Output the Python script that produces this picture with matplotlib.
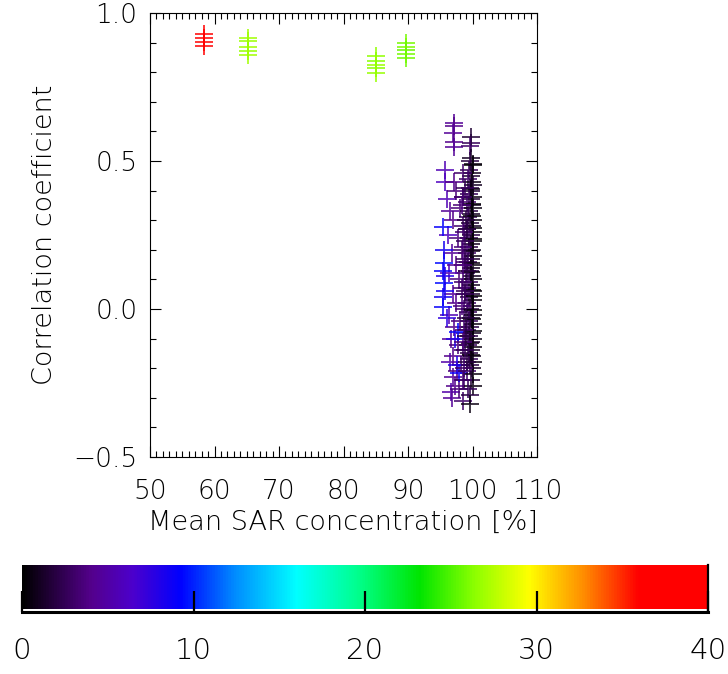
import matplotlib
matplotlib.use("Agg")
import matplotlib.pyplot as plt
import numpy as np
from matplotlib.colors import LinearSegmentedColormap
from matplotlib.ticker import MultipleLocator

# ---------------- data ----------------
# outlying clusters (x = mean SAR concentration, y = correlation, c = colour value)
out_x = [58.4, 58.4, 58.4, 58.4,
         65.2, 65.2, 65.2, 65.2, 65.2,
         85.0, 85.0, 85.0, 85.0, 85.0,
         89.7, 89.7, 89.7, 89.7, 89.7]
out_y = [0.928, 0.914, 0.901, 0.889,
         0.917, 0.905, 0.886, 0.872, 0.858,
         0.856, 0.838, 0.824, 0.813, 0.796,
         0.898, 0.886, 0.875, 0.860, 0.849]
out_c = [37.5, 37.0, 37.5, 37.0,
         27.0, 26.8, 27.0, 26.6, 26.9,
         26.5, 26.3, 26.8, 26.4, 26.6,
         25.8, 26.0, 25.6, 25.9, 25.7]

# dense near-black core
core_x = [99.8, 99.8, 99.6,
          99.8, 99.6, 100.0, 99.5, 99.9, 99.7,
          99.3, 99.9, 100.1, 99.6, 99.8, 99.4, 100.0,
          99.7, 99.2, 99.9, 100.1, 99.5, 99.8, 99.3, 100.0,
          99.6, 99.9, 99.1, 100.1, 99.7, 99.4, 100.0, 99.8,
          99.5, 99.9, 99.2, 100.0, 99.7, 99.3, 100.1, 99.8,
          99.6, 99.0, 99.9, 100.0, 99.4, 99.8, 99.2, 100.1,
          99.7, 99.5, 100.0, 99.1, 99.9, 99.6, 99.3, 100.1,
          99.8, 99.4, 100.0, 99.6, 99.2, 99.9, 99.5, 100.1,
          99.7, 99.3, 100.0, 99.8, 99.5, 99.9, 99.4, 100.1,
          99.6, 99.9, 99.2, 100.0, 99.7, 100.1,
          99.6, 99.6, 99.3,
          99.9, 100.0, 99.7, 99.8, 100.1, 99.9, 99.6, 100.0,
          99.8, 100.1, 99.7, 99.9, 100.0, 99.8, 100.1, 99.9,
          98.6, 98.9, 98.4, 99.0, 98.7, 98.5, 98.8, 99.1,
          98.6, 98.9, 98.4, 99.0, 98.7, 98.5, 98.8, 99.1,
          98.6, 98.9, 98.5, 99.0, 98.7, 98.8, 99.1, 98.6]
core_y = [0.56, 0.58, 0.55,
          0.51, 0.50, 0.49, 0.47, 0.46, 0.45,
          0.44, 0.43, 0.42, 0.41, 0.40, 0.39, 0.38,
          0.37, 0.36, 0.35, 0.34, 0.33, 0.32, 0.31, 0.30,
          0.29, 0.28, 0.27, 0.26, 0.25, 0.24, 0.23, 0.22,
          0.21, 0.20, 0.19, 0.18, 0.17, 0.16, 0.15, 0.14,
          0.13, 0.12, 0.11, 0.10, 0.09, 0.08, 0.07, 0.06,
          0.05, 0.04, 0.03, 0.02, 0.01, 0.00, -0.01, -0.02,
          -0.03, -0.04, -0.05, -0.06, -0.07, -0.08, -0.09, -0.10,
          -0.11, -0.12, -0.13, -0.14, -0.15, -0.16, -0.17, -0.18,
          -0.19, -0.20, -0.21, -0.22, -0.24, -0.26,
          -0.29, -0.32, -0.27,
          0.355, 0.275, 0.195, 0.125, 0.045, -0.035, -0.115, 0.485,
          0.405, 0.235, 0.155, 0.065, -0.075, -0.155, -0.005, 0.315,
          0.46, 0.41, 0.35, 0.30, 0.26, 0.21, 0.17, 0.13,
          0.09, 0.05, 0.01, -0.03, -0.07, -0.11, -0.14, -0.18,
          0.38, 0.23, 0.15, -0.09, -0.20, 0.06, 0.27, -0.24]
core_c = [2.5, 1.5, 3.0,
          1.0, 2.0, 0.5, 2.5, 1.0, 1.5,
          3.0, 0.5, 1.0, 2.0, 1.5, 2.5, 0.5,
          1.5, 3.0, 1.0, 0.5, 2.0, 1.0, 2.5, 0.5,
          1.5, 1.0, 3.0, 0.5, 2.0, 2.5, 0.5, 1.0,
          2.0, 1.0, 3.0, 0.5, 1.5, 2.5, 0.5, 1.0,
          2.0, 3.5, 1.0, 0.5, 2.5, 1.0, 3.0, 0.5,
          1.5, 2.0, 0.5, 3.0, 1.0, 2.0, 2.5, 0.5,
          1.0, 2.5, 0.5, 2.0, 3.0, 1.0, 2.0, 0.5,
          1.5, 2.5, 0.5, 1.0, 2.0, 1.0, 2.5, 0.5,
          2.0, 1.0, 3.0, 0.5, 1.5, 0.5,
          2.0, 0.5, 2.5,
          0.3, 0.2, 0.8, 0.4, 0.2, 0.3, 0.9, 0.2,
          0.5, 0.2, 0.6, 0.3, 0.2, 0.4, 0.2, 0.3,
          3.0, 2.5, 3.5, 2.0, 3.0, 3.5, 2.5, 2.0,
          3.0, 2.5, 3.5, 2.0, 3.0, 3.5, 2.5, 2.0,
          3.0, 2.5, 3.5, 2.0, 3.0, 2.5, 2.0, 3.0]

# purple points
purp_x = [97.1, 97.1, 97.0, 97.1, 97.1,
          95.7, 95.8, 97.2, 96.0, 97.5, 98.5, 96.5, 98.0, 97.0, 98.6,
          96.2, 97.8, 98.3, 96.8, 97.4, 98.8, 96.3, 97.9, 98.4, 96.9,
          97.5, 98.7, 96.4, 98.1, 97.2, 98.9, 96.7, 97.8, 98.5, 97.0,
          96.5, 98.2, 97.6, 96.9, 98.7, 97.3, 96.6, 96.8, 97.9, 98.6]
purp_y = [0.630, 0.618, 0.594, 0.565, 0.547,
          0.47, 0.43, 0.43, 0.37, 0.40, 0.38, 0.33, 0.34, 0.30, 0.28,
          0.25, 0.24, 0.20, 0.19, 0.15, 0.16, 0.12, 0.10, 0.07, 0.05,
          0.02, 0.00, -0.02, -0.04, -0.06, -0.08, -0.10, -0.12, -0.14, -0.16,
          -0.18, -0.19, -0.21, -0.23, -0.24, -0.26, -0.28, -0.30, -0.27, -0.31]
purp_c = [4.5, 4.0, 4.5, 4.0, 4.5,
          5.5, 6.0, 4.0, 5.5, 3.5, 3.0, 4.5, 3.5, 4.0, 3.0,
          6.0, 3.5, 3.0, 4.5, 4.0, 3.0, 5.5, 3.5, 3.0, 4.5,
          4.0, 3.0, 5.5, 3.5, 4.0, 3.0, 4.5, 3.5, 3.0, 4.0,
          5.0, 3.0, 3.5, 4.5, 3.0, 4.0, 5.0, 4.5, 3.5, 3.0]

# blue points
blue_x = [95.5, 95.6, 95.4, 95.6, 95.4, 95.5, 95.7, 95.8,
          97.7, 97.9, 97.3, 96.0, 95.6, 97.6]
blue_y = [0.278, 0.155, 0.13, 0.088, 0.04, 0.007, 0.11, 0.06,
          -0.078, -0.216, -0.10, -0.03, 0.20, -0.19]
blue_c = [9.0, 9.5, 9.0, 9.5, 8.5, 9.0, 8.0, 8.5,
          9.5, 9.0, 8.0, 7.5, 8.5, 8.0]

cbar_ticks = [0, 10, 20, 30, 40]

# ---------------- colormap (IDL-like rainbow) ----------------
cmap = LinearSegmentedColormap.from_list("idlrainbow", [
    (0.00, (0.0, 0.0, 0.0)),
    (0.10, (0.33, 0.0, 0.55)),
    (0.16, (0.30, 0.0, 0.80)),
    (0.23, (0.0, 0.0, 1.0)),
    (0.31, (0.0, 0.55, 1.0)),
    (0.40, (0.0, 1.0, 1.0)),
    (0.49, (0.0, 1.0, 0.55)),
    (0.58, (0.0, 0.9, 0.0)),
    (0.66, (0.55, 1.0, 0.0)),
    (0.74, (1.0, 1.0, 0.0)),
    (0.82, (1.0, 0.55, 0.0)),
    (0.90, (1.0, 0.0, 0.0)),
    (1.00, (1.0, 0.0, 0.0)),
])
norm = plt.Normalize(0, 40)

plt.rcParams['font.family'] = ['DejaVu Sans']
plt.rcParams['font.weight'] = 'light'
plt.rcParams['axes.labelweight'] = 'light'

fig = plt.figure(figsize=(7.28, 6.74), dpi=100)
ax = fig.add_axes([150/728, 1-457/674, 387/728, 444/674])

def draw(xs, ys, cs):
    for x, y, c in zip(xs, ys, cs):
        ax.plot([x], [y], marker='+', markersize=12.5, markeredgewidth=1.3,
                color=cmap(norm(c)), alpha=0.85, linestyle='none')

draw(purp_x, purp_y, purp_c)
draw(blue_x, blue_y, blue_c)
draw(core_x, core_y, core_c)
draw(out_x, out_y, out_c)

ax.set_xlim(50, 110)
ax.set_ylim(-0.5, 1.0)
ax.xaxis.set_major_locator(MultipleLocator(10))
ax.xaxis.set_minor_locator(MultipleLocator(1))
ax.yaxis.set_major_locator(MultipleLocator(0.5))
ax.yaxis.set_minor_locator(MultipleLocator(0.1))
ax.tick_params(which='both', direction='in', top=True, right=True, width=0.8)
ax.tick_params(which='major', length=8, labelsize=19)
ax.tick_params(axis='x', which='major', pad=16)
ax.tick_params(axis='y', which='major', pad=9)
ax.tick_params(which='minor', length=4)
ax.yaxis.set_major_formatter(plt.FuncFormatter(lambda v, p: f"{v:.1f}".replace('-', '\u2212')))
for s in ax.spines.values():
    s.set_linewidth(0.8)
ax.set_xlabel('Mean SAR concentration [%]', fontsize=19.5, labelpad=4)
ax.set_ylabel('Correlation coefficient', fontsize=19.5, labelpad=12)

# ---------------- colorbar ----------------
cax = fig.add_axes([22/728, 1-612/674, 686/728, 47/674])
grad = np.linspace(0, 40, 512).reshape(1, -1)
cax.imshow(grad, cmap=cmap, norm=norm, aspect='auto', extent=[0, 40, 0.06, 1.0])
cax.set_xlim(0, 40)
cax.set_ylim(0, 1)
cax.set_yticks([])
cax.set_xticks(cbar_ticks)
cax.tick_params(axis='x', direction='in', length=15, width=1.6, labelsize=21, pad=18,
                bottom=True, top=False)
cax.spines['top'].set_visible(False)
cax.spines['left'].set_visible(False)
cax.spines['right'].set_linewidth(1.6)
cax.spines['bottom'].set_linewidth(2.2)

fig.savefig('out.png', dpi=100)
